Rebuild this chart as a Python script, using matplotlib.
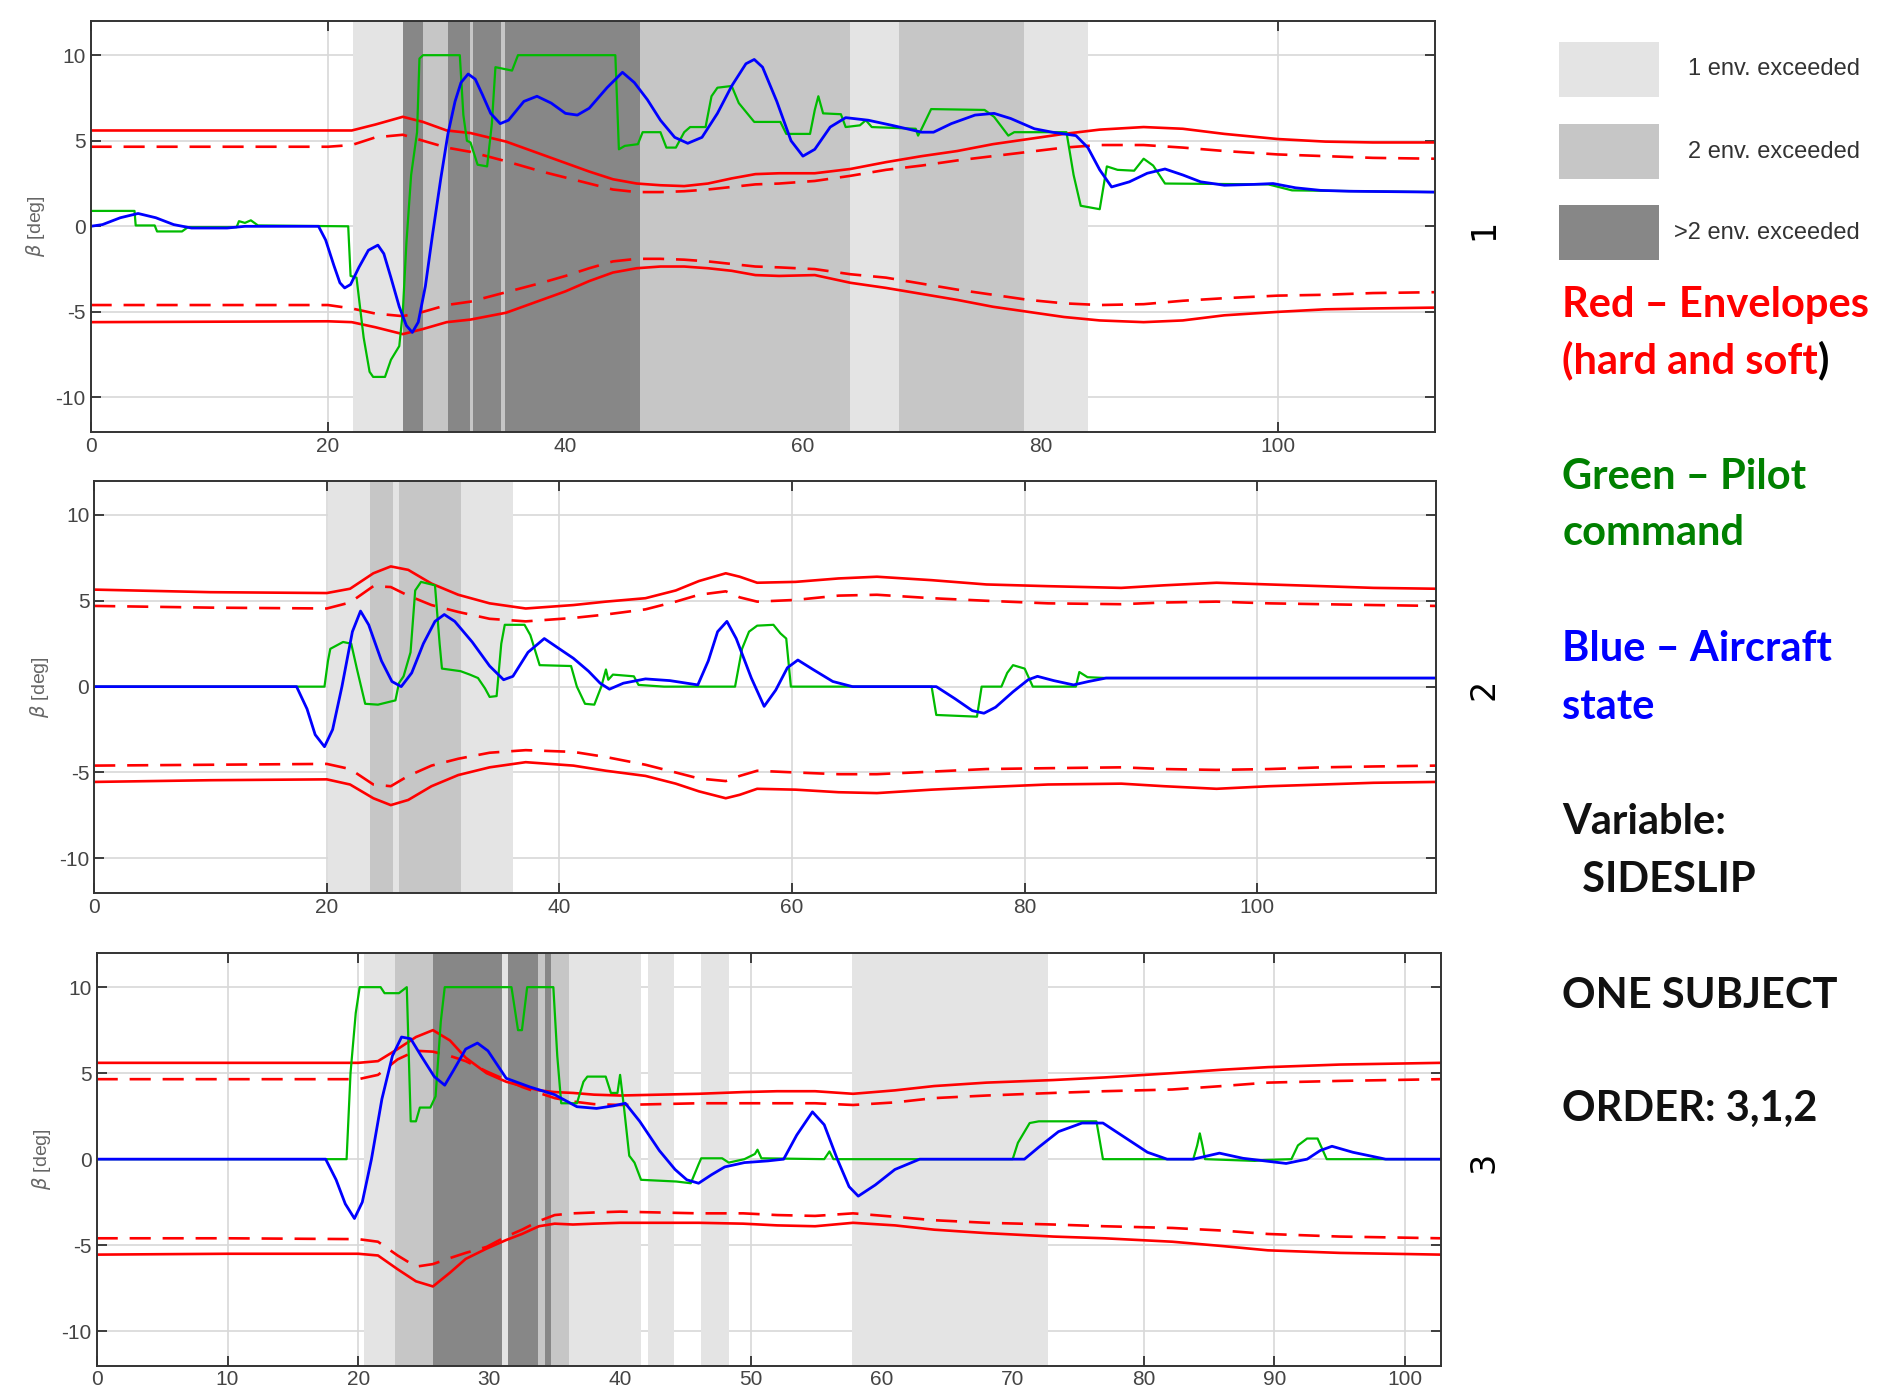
import matplotlib
matplotlib.use("Agg")
import matplotlib.pyplot as plt
from matplotlib.patches import Rectangle
from matplotlib.text import Annotation

plt.rcParams['axes.unicode_minus'] = False

# ---------------- panel 1 data ----------------
p1_env_t = [0, 20, 22, 24, 26.3, 28, 30, 32, 35, 38, 40, 42, 44, 46, 48, 50, 52, 54, 56, 58, 61, 64, 67,
            70, 73, 76, 79, 82, 85, 88.7, 92, 95.5, 100, 104, 108, 113.2]
p1_hard_hi = [5.6, 5.6, 5.6, 5.95, 6.4, 6.1, 5.6, 5.45, 4.95, 4.2, 3.7, 3.2, 2.75, 2.5, 2.4, 2.35, 2.5, 2.8,
              3.05, 3.1, 3.1, 3.35, 3.75, 4.1, 4.4, 4.8, 5.1, 5.4, 5.65, 5.8, 5.7, 5.4, 5.1, 4.95, 4.9, 4.9]
p1_soft_hi = [4.65, 4.65, 4.75, 5.2, 5.35, 5.0, 4.6, 4.35, 3.8, 3.2, 2.85, 2.5, 2.15, 2.0, 2.0, 2.05, 2.15,
              2.3, 2.45, 2.5, 2.65, 2.95, 3.3, 3.55, 3.85, 4.1, 4.35, 4.6, 4.75, 4.75, 4.6, 4.4, 4.2, 4.1,
              4.0, 3.95]
p1_hard_lo = [-5.6, -5.55, -5.6, -5.9, -6.3, -6.0, -5.6, -5.45, -5.05, -4.3, -3.8, -3.2, -2.7, -2.45, -2.35,
              -2.35, -2.45, -2.6, -2.85, -2.9, -2.85, -3.3, -3.6, -3.95, -4.3, -4.7, -5.0, -5.3, -5.5, -5.6,
              -5.5, -5.2, -5.0, -4.85, -4.8, -4.75]
p1_soft_lo = [-4.6, -4.6, -4.8, -5.1, -5.25, -5.0, -4.6, -4.4, -3.85, -3.3, -2.9, -2.45, -2.05, -1.9, -1.9,
              -1.95, -2.05, -2.2, -2.35, -2.4, -2.5, -2.8, -3.0, -3.35, -3.7, -4.0, -4.3, -4.5, -4.6, -4.55,
              -4.35, -4.2, -4.05, -4.0, -3.9, -3.85]
p1_pilot_t = [0, 3.7, 3.8, 5.4, 5.6, 7.7, 8.2, 12.3, 12.5, 13.0, 13.5, 14.1, 21.7, 21.9, 22.4, 23.0, 23.5,
              23.8, 24.8, 25.3, 26.0, 26.3, 26.6, 27.0, 27.5, 27.7, 28.0, 31.1, 31.4, 31.7, 32.0, 32.6, 33.4,
              33.8, 34.1, 35.5, 36.0, 44.2, 44.5, 45.0, 46.1, 46.5, 48.0, 48.5, 49.3, 50.0, 50.5, 51.8, 52.3,
              52.8, 54.0, 54.6, 55.9, 58.1, 58.6, 60.6, 61.0, 61.3, 61.7, 63.2, 63.6, 64.8, 65.3, 65.8, 69.5,
              69.7, 70.0, 70.8, 75.3, 76.1, 77.3, 77.8, 82.2, 82.8, 83.4, 85.0, 85.6, 86.5, 87.9, 88.7, 89.5,
              90.5, 99.2, 101.2, 113.2]
p1_pilot = [0.9, 0.9, 0.05, 0.05, -0.3, -0.3, -0.05, -0.05, 0.3, 0.2, 0.35, 0.05, 0, -2.9, -3.0, -6.5, -8.5,
            -8.8, -8.8, -7.8, -7.0, -5.0, -1.0, 3.0, 5.5, 9.8, 10, 10, 6.5, 5.0, 4.9, 3.6, 3.5, 6.0, 9.3, 9.1,
            10, 10, 4.5, 4.7, 4.8, 5.5, 5.5, 4.6, 4.6, 5.5, 5.8, 5.8, 7.6, 8.1, 8.2, 7.2, 6.1, 6.1, 5.4, 5.4,
            6.8, 7.6, 6.6, 6.55, 5.8, 5.9, 6.2, 5.8, 5.7, 5.3, 5.7, 6.85, 6.8, 6.4, 5.3, 5.5, 5.5, 3.0, 1.2,
            1.0, 3.5, 3.3, 3.25, 3.95, 3.55, 2.5, 2.45, 2.1, 2.0]
p1_state_t = [0, 1, 2.5, 4, 5.5, 7, 8.5, 11.5, 13, 19.2, 19.8, 20.5, 21.0, 21.4, 21.9, 22.6, 23.4, 24.2, 24.7,
              25.3, 26.0, 26.6, 27.1, 27.6, 28.2, 28.8, 29.5, 30.1, 30.7, 31.2, 31.8, 32.4, 33.0, 33.7, 34.5,
              35.2, 36.5, 37.6, 38.8, 40, 41, 42, 43.5, 44.8, 45.8, 46.9, 48, 49.2, 50.3, 51.5, 52.8, 54, 55.2,
              55.9, 56.6, 57.8, 59, 60, 61, 62.3, 63.6, 65.5, 67.5, 70, 71, 72.5, 74.5, 76.1, 77.5, 79.5, 81,
              83, 84, 85, 86, 87.5, 89, 90.5, 92, 93.5, 95.5, 98, 99.6, 101.5, 103.6, 106, 113.2]
p1_state = [0, 0.1, 0.5, 0.75, 0.5, 0.1, -0.1, -0.1, 0, 0, -0.8, -2.3, -3.3, -3.6, -3.4, -2.4, -1.4, -1.1,
            -1.6, -3.0, -4.7, -5.8, -6.2, -5.6, -3.5, -0.5, 2.8, 5.4, 7.3, 8.4, 8.9, 8.6, 7.7, 6.6, 6.0, 6.2,
            7.3, 7.6, 7.2, 6.6, 6.5, 6.9, 8.1, 9.0, 8.4, 7.4, 6.2, 5.2, 4.85, 5.2, 6.6, 8.2, 9.5, 9.75, 9.3,
            7.3, 5.0, 4.1, 4.5, 5.8, 6.35, 6.2, 5.9, 5.5, 5.5, 6.0, 6.5, 6.6, 6.3, 5.7, 5.5, 5.3, 4.6, 3.3,
            2.3, 2.6, 3.1, 3.35, 3.0, 2.6, 2.4, 2.45, 2.5, 2.25, 2.1, 2.05, 2.0]
p1_light = [(22.1, 26.3), (64.0, 68.1), (78.6, 84.0)]
p1_mid = [(28.0, 30.1), (32.0, 32.2), (34.6, 34.9), (46.3, 64.0), (68.1, 78.6)]
p1_dark = [(26.3, 28.0), (30.1, 32.0), (32.2, 34.6), (34.9, 46.3)]

# ---------------- panel 2 data ----------------
p2_env_t = [0, 10, 20, 22, 24, 25.5, 27, 29, 31.3, 34, 37.1, 41.2, 44, 47.4, 50, 52, 54.3, 55.5, 57, 60.3,
            64, 67.3, 72, 76.7, 82, 88.3, 92, 96.5, 101, 105.6, 110, 115.4]
p2_hard_hi = [5.65, 5.5, 5.45, 5.7, 6.6, 7.0, 6.8, 6.0, 5.35, 4.85, 4.55, 4.75, 4.95, 5.15, 5.6, 6.15, 6.6,
              6.4, 6.05, 6.1, 6.3, 6.4, 6.2, 5.95, 5.85, 5.75, 5.9, 6.05, 5.95, 5.85, 5.75, 5.7]
p2_soft_hi = [4.7, 4.6, 4.55, 4.9, 5.85, 5.8, 5.3, 4.75, 4.35, 3.95, 3.8, 4.0, 4.2, 4.5, 4.95, 5.35, 5.55,
              5.2, 4.95, 5.05, 5.3, 5.35, 5.15, 5.0, 4.85, 4.8, 4.9, 4.95, 4.85, 4.8, 4.75, 4.7]
p2_hard_lo = [-5.55, -5.45, -5.4, -5.7, -6.5, -6.9, -6.6, -5.8, -5.15, -4.7, -4.4, -4.6, -4.9, -5.2, -5.65,
              -6.1, -6.5, -6.3, -5.95, -6.0, -6.15, -6.2, -6.0, -5.85, -5.7, -5.65, -5.8, -5.95, -5.8, -5.7,
              -5.6, -5.55]
p2_soft_lo = [-4.6, -4.55, -4.5, -4.8, -5.7, -5.8, -5.2, -4.6, -4.2, -3.85, -3.7, -3.8, -4.1, -4.55, -5.0,
              -5.35, -5.5, -5.2, -4.9, -5.0, -5.1, -5.1, -4.95, -4.8, -4.75, -4.7, -4.8, -4.85, -4.8, -4.7,
              -4.65, -4.6]
p2_pilot_t = [0, 19.8, 20.1, 20.3, 21.4, 22.1, 22.6, 23.3, 24.4, 25.9, 26.2, 26.6, 27.2, 27.6, 28.1, 29.3,
              29.7, 29.9, 31.5, 32.3, 33.0, 33.6, 34.0, 34.6, 35.0, 35.3, 37.0, 37.5, 38.3, 41.0, 41.5, 42.2,
              43.0, 43.6, 44.0, 44.2, 44.6, 46.4, 46.8, 49.0, 55.1, 55.7, 56.3, 57.0, 58.4, 59.0, 59.5, 59.9,
              72.0, 72.4, 75.9, 76.3, 78.0, 78.5, 79.0, 80.0, 80.7, 84.4, 84.7, 85.4, 87.0, 115.4]
p2_pilot = [0, 0, 1.5, 2.2, 2.6, 2.5, 1.0, -1.0, -1.05, -0.8, 0.2, 0.6, 2.0, 5.6, 6.1, 5.9, 2.5, 1.05, 0.9,
            0.7, 0.5, -0.1, -0.6, -0.55, 2.5, 3.6, 3.6, 3.0, 1.25, 1.2, 0.0, -1.0, -1.05, 0.0, 1.0, 0.4, 0.7,
            0.6, 0.1, 0, 0, 2.2, 3.2, 3.55, 3.6, 3.1, 2.8, 0, 0, -1.65, -1.75, 0, 0, 0.8, 1.25, 1.05, 0, 0,
            0.85, 0.55, 0.5, 0.5]
p2_state_t = [0, 17.4, 18.3, 19.0, 19.8, 20.5, 21.3, 22.2, 22.9, 23.6, 24.7, 25.6, 26.4, 27.3, 28.3, 29.3,
              30.1, 31, 32.5, 34, 35.2, 36, 37.3, 38.7, 40, 41.2, 42.5, 43.5, 44.3, 45.5, 47.4, 49.5, 51.9,
              52.8, 53.6, 54.4, 55.2, 56.5, 57.6, 58.6, 59.6, 60.5, 61.8, 63.5, 65.2, 72.4, 74, 75.5, 76.5,
              77.5, 79, 80.3, 81.1, 82.5, 84.2, 85.5, 87, 115.4]
p2_state = [0, 0, -1.3, -2.8, -3.5, -2.5, 0, 3.2, 4.4, 3.6, 1.5, 0.3, 0, 0.8, 2.5, 3.8, 4.2, 3.8, 2.6, 1.2,
            0.4, 0.6, 2.0, 2.8, 2.2, 1.65, 0.9, 0.2, -0.15, 0.2, 0.45, 0.35, 0.1, 1.5, 3.2, 3.8, 2.8, 0.5,
            -1.15, -0.2, 1.1, 1.55, 1.0, 0.3, 0, 0, -0.7, -1.4, -1.55, -1.2, -0.3, 0.4, 0.6, 0.35, 0.1, 0.3,
            0.5, 0.5]
p2_light = [(20.1, 23.7), (25.7, 26.2), (31.5, 36.0)]
p2_mid = [(23.7, 25.7), (26.2, 31.5)]
p2_dark = []

# ---------------- panel 3 data ----------------
p3_env_t = [0, 10, 20, 21.5, 23, 24.4, 25.7, 27, 28.2, 29.8, 31.3, 32.5, 33.8, 35, 36.4, 38, 40, 43, 46,
            49.4, 52, 54.9, 57.8, 61, 64, 68, 73.1, 77, 82.2, 86, 89.5, 95, 102.7]
p3_hard_hi = [5.6, 5.6, 5.6, 5.7, 6.4, 7.1, 7.5, 6.9, 5.9, 5.0, 4.5, 4.25, 4.0, 3.9, 3.85, 3.75, 3.7, 3.75,
              3.8, 3.9, 3.95, 3.95, 3.8, 4.0, 4.25, 4.45, 4.6, 4.75, 5.0, 5.2, 5.35, 5.5, 5.6]
p3_soft_hi = [4.65, 4.65, 4.65, 4.9, 5.8, 6.3, 6.25, 6.0, 5.7, 5.1, 4.6, 4.2, 3.85, 3.55, 3.35, 3.2, 3.15,
              3.2, 3.25, 3.25, 3.25, 3.25, 3.15, 3.3, 3.55, 3.7, 3.85, 3.95, 4.05, 4.25, 4.45, 4.55, 4.65]
p3_hard_lo = [-5.55, -5.5, -5.5, -5.6, -6.4, -7.1, -7.4, -6.6, -5.8, -5.2, -4.7, -4.35, -3.9, -3.75, -3.8,
              -3.75, -3.7, -3.7, -3.7, -3.75, -3.85, -3.9, -3.7, -3.85, -4.1, -4.3, -4.5, -4.6, -4.8, -5.05,
              -5.3, -5.45, -5.55]
p3_soft_lo = [-4.6, -4.6, -4.65, -4.8, -5.6, -6.25, -6.1, -5.75, -5.45, -5.1, -4.5, -4.1, -3.6, -3.25, -3.15,
              -3.1, -3.05, -3.1, -3.15, -3.15, -3.25, -3.3, -3.15, -3.35, -3.55, -3.7, -3.8, -3.9, -4.0, -4.15,
              -4.35, -4.5, -4.6]
p3_pilot_t = [0, 19.1, 19.4, 19.8, 20.1, 21.7, 22.0, 23.1, 23.7, 24.0, 24.4, 24.7, 25.5, 25.9, 26.3, 26.6,
              31.7, 32.0, 32.2, 32.5, 32.9, 34.9, 35.2, 35.5, 36.7, 37.2, 37.5, 38.9, 39.3, 39.8, 40.0, 40.3,
              40.7, 41.1, 41.6, 44.3, 45.4, 46.0, 46.2, 47.8, 48.3, 49.5, 50.3, 50.5, 50.8, 55.6, 56.0, 56.3,
              70.0, 70.4, 71.3, 72, 76.4, 76.9, 83.8, 84.1, 84.3, 84.5, 84.7, 88.5, 89.2, 91.3, 91.8, 92.5,
              93.3, 94.0, 102.7]
p3_pilot = [0, 0, 5.0, 8.5, 10, 10, 9.65, 9.65, 10, 2.2, 2.2, 3.0, 3.0, 3.65, 8.0, 10, 10, 8.5, 7.5, 7.5, 10,
            10, 6.0, 3.25, 3.25, 4.5, 4.8, 4.8, 3.85, 3.85, 4.9, 3.0, 0.2, -0.2, -1.2, -1.3, -1.4, -0.3, 0.05,
            0.05, -0.2, 0.0, 0.3, 0.55, 0.05, 0, 0.45, 0.0, 0, 0.95, 2.1, 2.2, 2.2, 0, 0, 0.8, 1.5, 0.8, 0,
            -0.1, -0.05, 0, 0.8, 1.2, 1.2, 0, 0]
p3_state_t = [0, 17.5, 18.3, 19.0, 19.7, 20.3, 21.0, 21.8, 22.6, 23.3, 24.0, 24.8, 25.8, 26.6, 27.3, 28.2,
              29.1, 29.9, 31.3, 33.1, 35.0, 36.7, 38.2, 39.5, 40.4, 41.5, 43, 44.2, 45.1, 46.0, 47, 48.0,
              49.5, 51.3, 52.5, 53.5, 54.7, 55.6, 56.6, 57.5, 58.2, 59.5, 61.0, 62.9, 70.9, 72.0, 73.5, 75.3,
              76.9, 78.5, 80.3, 81.8, 83.8, 85.8, 87.6, 90.9, 92.5, 93.5, 94.4, 96, 98.5, 102.7]
p3_state = [0, 0, -1.2, -2.6, -3.45, -2.5, 0, 3.5, 6.0, 7.1, 7.0, 6.0, 4.8, 4.3, 5.2, 6.4, 6.75, 6.3, 4.7,
            4.2, 3.75, 3.05, 2.95, 3.1, 3.25, 2.2, 0.5, -0.6, -1.2, -1.4, -0.9, -0.45, -0.2, -0.1, 0, 1.4,
            2.75, 2.0, 0.0, -1.6, -2.15, -1.5, -0.6, 0, 0, 0.7, 1.6, 2.1, 2.1, 1.3, 0.4, 0, 0, 0.35, 0.05,
            -0.25, 0.0, 0.5, 0.75, 0.4, 0, 0]
p3_light = [(20.4, 22.8), (31.0, 31.4), (36.1, 41.6), (42.1, 44.1), (46.2, 48.3), (57.7, 72.7)]
p3_mid = [(22.8, 25.7), (33.7, 34.3), (34.7, 36.1)]
p3_dark = [(25.7, 31.0), (31.4, 33.7), (34.3, 34.7)]

panel_xmax = [113.2, 115.4, 102.7]
panel_xstep = [20, 20, 10]
panel_names = ['1', '2', '3']
legend_labels = ['1 env. exceeded', '2 env. exceeded', '>2 env. exceeded']

# colours
c_light = '#e4e4e4'
c_mid = '#c6c6c6'
c_dark = '#878787'
c_red = '#ff0000'
c_green = '#00bb00'
c_blue = '#0000ff'

fig = plt.figure(figsize=(18.95, 13.97), dpi=100)

boxes = [[0.0478, 0.691, 0.7092, 0.294],
         [0.0497, 0.361, 0.7083, 0.295],
         [0.0510, 0.0225, 0.7092, 0.2955]]

panels = [
    (p1_env_t, p1_hard_hi, p1_soft_hi, p1_hard_lo, p1_soft_lo, p1_pilot_t, p1_pilot, p1_state_t, p1_state,
     p1_light, p1_mid, p1_dark),
    (p2_env_t, p2_hard_hi, p2_soft_hi, p2_hard_lo, p2_soft_lo, p2_pilot_t, p2_pilot, p2_state_t, p2_state,
     p2_light, p2_mid, p2_dark),
    (p3_env_t, p3_hard_hi, p3_soft_hi, p3_hard_lo, p3_soft_lo, p3_pilot_t, p3_pilot, p3_state_t, p3_state,
     p3_light, p3_mid, p3_dark),
]

dash = (0, (8, 4.5))

for i, (env_t, hh, sh, hl, sl, pt, pv, st, sv, light, mid, dark) in enumerate(panels):
    ax = fig.add_axes(boxes[i])
    ax.set_axisbelow(True)

    # shaded exceedance regions
    for a, b in light:
        ax.axvspan(a, b, color=c_light, lw=0)
    for a, b in mid:
        ax.axvspan(a, b, color=c_mid, lw=0)
    for a, b in dark:
        ax.axvspan(a, b, color=c_dark, lw=0)

    # envelopes
    ax.plot(env_t, hh, color=c_red, lw=1.9)
    ax.plot(env_t, hl, color=c_red, lw=1.9)
    ax.plot(env_t, sh, color=c_red, lw=1.9, linestyle=dash)
    ax.plot(env_t, sl, color=c_red, lw=1.9, linestyle=dash)

    # pilot command and aircraft state
    ax.plot(pt, pv, color=c_green, lw=1.6)
    ax.plot(st, sv, color=c_blue, lw=2.0)

    ax.set_xlim(0, panel_xmax[i])
    ax.set_ylim(-12, 12)
    ax.set_xticks(range(0, int(panel_xmax[i]) + 1, panel_xstep[i]))
    ax.set_yticks([-10, -5, 0, 5, 10])
    ax.grid(True, color='#d8d8d8', lw=1.2)
    ax.tick_params(direction='in', length=7, width=1.2, top=True, right=True,
                   labelsize=15, labelcolor='#444444', color='#222222')
    for lab in ax.get_xticklabels() + ax.get_yticklabels():
        lab.set_family('Liberation Sans')
    for sp in ax.spines.values():
        sp.set_color('#333333')
        sp.set_linewidth(1.4)
    ax.set_ylabel(r'$\beta$ [deg]', fontsize=14, color='#666666', family='Liberation Sans', labelpad=6)

    # panel number on the right
    fig.text(0.783, boxes[i][1] + boxes[i][3] / 2 - 0.002, panel_names[i], rotation=90,
             ha='center', va='center', fontsize=24, color='black', family='DejaVu Sans')

# legend for shaded regions
for j, (col, lab) in enumerate(zip([c_light, c_mid, c_dark], legend_labels)):
    y0 = [0.9308, 0.872, 0.814][j]
    fig.add_artist(Rectangle((0.8227, y0), 0.0529, 0.0389, transform=fig.transFigure,
                             facecolor=col, edgecolor='none'))
    fig.text(0.9815, y0 + 0.0195, lab, ha='right', va='center', fontsize=17,
             color='#333333', family='Liberation Sans')

# explanatory text
tx = 0.8245
fs = 30
fig.text(tx, 1 - 252 / 1156, 'Red \u2013 Envelopes', color=c_red, fontsize=fs, fontweight='bold',
         family='Lato', va='center')
t_hard = fig.text(tx, 1 - 298 / 1156, '(hard and soft', color=c_red, fontsize=fs, fontweight='bold',
                  family='Lato', va='center')
fig.add_artist(Annotation(')', xy=(1, 0), xycoords=t_hard, ha='left', va='bottom', color='black',
                          fontsize=fs, fontweight='bold', family='Lato'))
fig.text(tx, 1 - 395 / 1156, 'Green \u2013 Pilot', color='#008000', fontsize=fs, fontweight='bold',
         family='Lato', va='center')
fig.text(tx, 1 - 441 / 1156, 'command', color='#008000', fontsize=fs, fontweight='bold',
         family='Lato', va='center')
fig.text(tx, 1 - 537 / 1156, 'Blue \u2013 Aircraft', color=c_blue, fontsize=fs, fontweight='bold',
         family='Lato', va='center')
fig.text(tx, 1 - 585 / 1156, 'state', color=c_blue, fontsize=fs, fontweight='bold',
         family='Lato', va='center')
fig.text(tx, 1 - 680 / 1156, 'Variable:', color='#111111', fontsize=fs, fontweight='bold',
         family='Lato', va='center')
fig.text(tx, 1 - 728 / 1156, '  SIDESLIP', color='#111111', fontsize=fs, fontweight='bold',
         family='Lato', va='center')
fig.text(tx, 1 - 824 / 1156, 'ONE SUBJECT', color='#111111', fontsize=fs, fontweight='bold',
         family='Lato', va='center')
fig.text(tx, 1 - 918 / 1156, 'ORDER: 3,1,2', color='#111111', fontsize=fs, fontweight='bold',
         family='Lato', va='center')

fig.savefig('out.png', dpi=100)
